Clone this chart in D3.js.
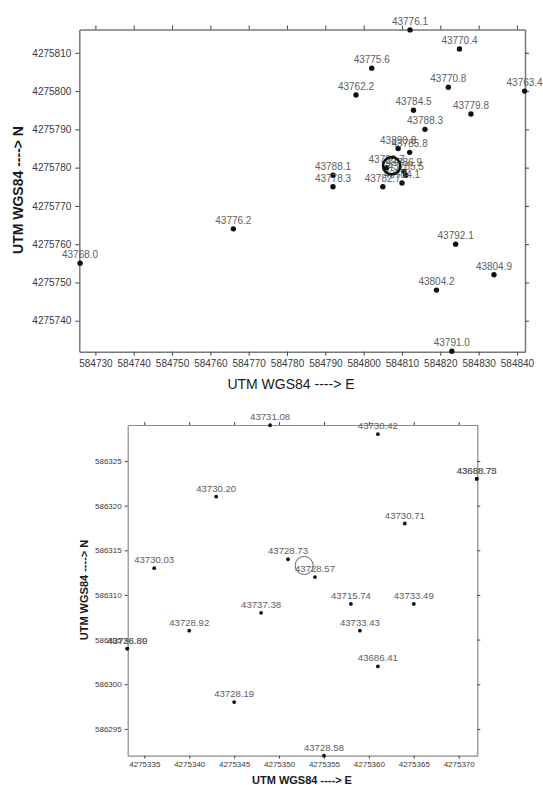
<!DOCTYPE html>
<html>
<head>
<meta charset="utf-8">
<script src="https://cdn.jsdelivr.net/npm/d3@7"></script>
<style>
  body { margin: 0; background: #fff; }
  text { font-family: "Liberation Sans", Arial, sans-serif; }
</style>
</head>
<body>
<svg id="chart" width="543" height="785"></svg>
<script>
"use strict";

// upper panel: spot elevations, easting / northing (UTM WGS84)
const topLabels = ["43776.1", "43770.4", "43775.6", "43762.2", "43770.8", "43763.4", "43784.5",
  "43779.8", "43788.3", "43890.8", "43785.8", "43780.7", "43786.9", "43785.5", "43784.1",
  "43788.1", "43778.3", "43782.7", "43776.2", "43768.0", "43792.1", "43804.9", "43804.2", "43791.0"];
const topEast = [584812.1, 584825.0, 584802.1, 584798.0, 584822.1, 584842.0, 584813.0,
  584828.0, 584816.0, 584809.0, 584812.0, 584806.0, 584810.5, 584811.0, 584810.0,
  584792.0, 584792.0, 584805.0, 584766.0, 584726.0, 584824.0, 584834.0, 584819.0, 584823.0];
const topNorth = [4275816.0, 4275811.0, 4275806.0, 4275799.0, 4275801.0, 4275800.0, 4275795.0,
  4275794.0, 4275790.0, 4275785.0, 4275784.0, 4275780.0, 4275779.0, 4275778.0, 4275776.0,
  4275778.0, 4275775.0, 4275775.0, 4275764.0, 4275755.0, 4275760.0, 4275752.0, 4275748.0, 4275732.0];
const topXTicks = [584730, 584740, 584750, 584760, 584770, 584780, 584790, 584800, 584810, 584820, 584830, 584840];
const topYTicks = [4275740, 4275750, 4275760, 4275770, 4275780, 4275790, 4275800, 4275810];
const topRing = [584807.3, 4275780.5];

// lower panel
const botLabels = ["43731.08", "43730.42", "43688.73", "43688.75", "43730.20", "43730.71",
  "43730.03", "43728.73", "43728.57", "43715.74", "43733.49", "43737.38", "43733.43",
  "43728.92", "43726.89", "43736.80", "43686.41", "43728.19", "43728.58"];
const botEast = [4275349.0, 4275361.0, 4275372.0, 4275372.0, 4275343.0, 4275364.0,
  4275336.1, 4275351.0, 4275354.0, 4275358.0, 4275365.0, 4275348.0, 4275359.0,
  4275340.0, 4275333.1, 4275333.1, 4275361.0, 4275345.0, 4275355.0];
const botNorth = [586329.0, 586328.0, 586323.0, 586323.0, 586321.0, 586318.0,
  586313.0, 586314.0, 586312.0, 586309.0, 586309.0, 586308.0, 586306.0,
  586306.0, 586304.0, 586304.0, 586302.0, 586298.0, 586292.0];
const botXTicks = [4275335, 4275340, 4275345, 4275350, 4275355, 4275360, 4275365, 4275370];
const botYTicks = [586295, 586300, 586305, 586310, 586315, 586320, 586325];
const botRing = [4275352.8, 586313.3];

const svg = d3.select("#chart");

drawPanel({
  labels: topLabels, east: topEast, north: topNorth,
  xTicks: topXTicks, yTicks: topYTicks, ring: topRing,
  xDomain: [584725.8, 584842.1], yDomain: [4275731.9, 4275816.1],
  left: 79.3, right: 525, top: 29.5, bottom: 351.7,
  tick: 4, pad: 4, tickFont: 10, labelFont: 10, dotR: 2.7,
  frame: "#7a7a7a", frameW: 1.5,
  ringR: 8.6, ringW: 2.6, ringColor: "#111",
  xTitle: [291, 389], xWeight: "normal", yTitle: [23, 190], titleFont: 14
});

drawPanel({
  labels: botLabels, east: botEast, north: botNorth,
  xTicks: botXTicks, yTicks: botYTicks, ring: botRing,
  xDomain: [4275333.15, 4275372.07], yDomain: [586292.0, 586329.03],
  left: 127.7, right: 477.3, top: 425, bottom: 755.7,
  tick: 3, pad: 3, tickFont: 8, labelFont: 9.6, dotR: 1.9,
  frame: "#8a8a8a", frameW: 1.2,
  ringR: 9, ringW: 0.9, ringColor: "#555",
  xTitle: [302, 784], xWeight: "bold", yTitle: [87.5, 590], titleFont: 11
});

function drawPanel(o) {
  const x = d3.scaleLinear().domain(o.xDomain).range([o.left, o.right]);
  const y = d3.scaleLinear().domain(o.yDomain).range([o.bottom, o.top]);
  const g = svg.append("g");

  const styleAxis = (sel) => {
    sel.attr("font-family", null).attr("font-size", null);
    sel.select(".domain").attr("stroke", o.frame).attr("stroke-width", o.frameW);
    sel.selectAll(".tick line").attr("stroke", "#444");
    sel.selectAll(".tick text").attr("fill", "#3a3a3a").style("font-size", o.tickFont + "px");
  };
  const fmt = d3.format("d");

  g.append("g")
    .attr("transform", `translate(0,${o.bottom})`)
    .call(d3.axisBottom(x).tickValues(o.xTicks).tickFormat(fmt)
      .tickSize(o.tick).tickSizeOuter(0).tickPadding(o.pad))
    .call(styleAxis);
  g.append("g")
    .attr("transform", `translate(0,${o.top})`)
    .call(d3.axisTop(x).tickValues(o.xTicks).tickFormat("")
      .tickSize(o.tick).tickSizeOuter(0))
    .call(styleAxis);
  g.append("g")
    .attr("transform", `translate(${o.left},0)`)
    .call(d3.axisLeft(y).tickValues(o.yTicks).tickFormat(fmt)
      .tickSize(o.tick).tickSizeOuter(0).tickPadding(o.pad))
    .call(styleAxis);
  g.append("g")
    .attr("transform", `translate(${o.right},0)`)
    .call(d3.axisRight(y).tickValues(o.yTicks).tickFormat("")
      .tickSize(o.tick).tickSizeOuter(0))
    .call(styleAxis);

  const idx = d3.range(o.labels.length);

  g.append("g")
    .selectAll("circle.dot")
    .data(idx)
    .join("circle")
    .attr("class", "dot")
    .attr("cx", (i) => x(o.east[i]))
    .attr("cy", (i) => y(o.north[i]))
    .attr("r", o.dotR)
    .attr("fill", "#111");

  g.append("g")
    .selectAll("text.lbl")
    .data(idx)
    .join("text")
    .attr("class", "lbl")
    .attr("x", (i) => x(o.east[i]))
    .attr("y", (i) => y(o.north[i]) - 5)
    .attr("text-anchor", "middle")
    .attr("fill", "#606060")
    .style("font-size", o.labelFont + "px")
    .text((i) => o.labels[i]);

  g.append("circle")
    .attr("cx", x(o.ring[0]))
    .attr("cy", y(o.ring[1]))
    .attr("r", o.ringR)
    .attr("fill", "none")
    .attr("stroke", o.ringColor)
    .attr("stroke-width", o.ringW);

  g.append("text")
    .attr("x", o.xTitle[0])
    .attr("y", o.xTitle[1])
    .attr("text-anchor", "middle")
    .attr("fill", "#1a1a1a")
    .style("font-size", o.titleFont + "px")
    .style("font-weight", o.xWeight)
    .text("UTM WGS84  ----> E");

  g.append("text")
    .attr("transform", `translate(${o.yTitle[0]},${o.yTitle[1]}) rotate(-90)`)
    .attr("text-anchor", "middle")
    .attr("fill", "#1a1a1a")
    .style("font-size", o.titleFont + "px")
    .style("font-weight", "bold")
    .text("UTM WGS84  ----> N");
}
</script>
</body>
</html>
